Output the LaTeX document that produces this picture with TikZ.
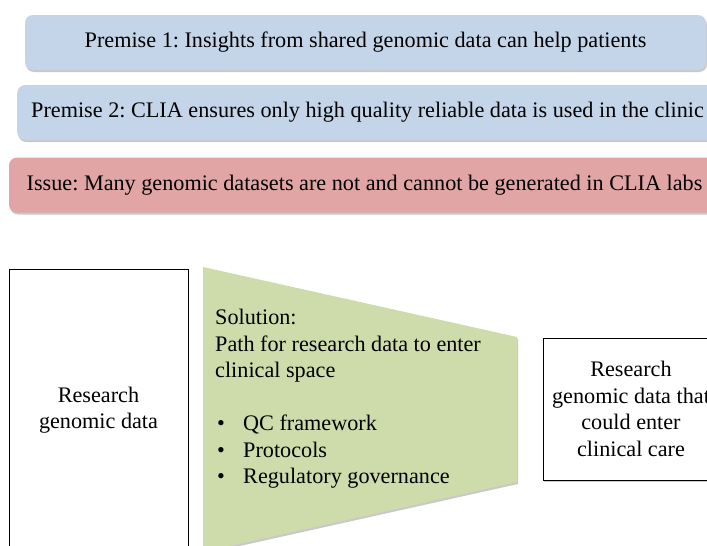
\documentclass[tikz,border=0pt]{standalone}
\usepackage{fontspec}
\setmainfont{Liberation Serif}
\usepackage{tikz}
\usetikzlibrary{shadows}

\definecolor{premiseblue}{RGB}{196,213,233}
\definecolor{issuered}{RGB}{224,165,164}
\definecolor{solutiongreen}{RGB}{206,220,171}

\tikzset{
  softshadow/.style={drop shadow={shadow xshift=1pt, shadow yshift=-2pt, opacity=0.35, fill=black!60}},
  banner/.style={rounded corners=8pt, minimum height=55pt, softshadow, inner xsep=0pt},
  databox/.style={draw=black, line width=0.6pt, fill=white, align=center, inner sep=0pt}
}

\begin{document}
\frenchspacing
\begin{tikzpicture}[x=1pt, y=-1pt, font=\fontsize{22.2}{26.5}\selectfont]
			%%%%% START %%%%%
			\clip (0, 0) rectangle (707, 546);
			\fill[white] (0, 0) rectangle (707, 546);
			
			% top banners
			\node[banner, fill=premiseblue, minimum width=681pt] (premiseA) at (365.5, 42.5) {Premise 1: Insights from shared genomic data can help patients};
			\node[banner, fill=premiseblue, anchor=west, inner xsep=14pt] (premiseB) at (17, 112.5) {\makebox[772pt][l]{Premise 2: CLIA ensures only high quality reliable data is used in the clinic}};
			\node[banner, fill=issuered, minimum width=711pt] (issue) at (364.5, 185) {Issue: Many genomic datasets are not and cannot be generated in CLIA labs};
			
			% left box
			\node[databox, minimum width=179pt, minimum height=282pt] (rawdata) at (98.5, 410) {Research\\genomic data};
			
			% solution funnel
			\fill[solutiongreen, softshadow] (203, 267) -- (517, 337) -- (517, 482) -- (203, 552) -- cycle;
			\node[anchor=north west, align=left, inner sep=0pt] (solution) at (215, 309) {Solution:\\Path for research data to enter\\clinical space\\[26.5pt]
				\makebox[28pt][l]{\hspace{2pt}\textbullet}QC framework\\
				\makebox[28pt][l]{\hspace{2pt}\textbullet}Protocols\\
				\makebox[28pt][l]{\hspace{2pt}\textbullet}Regulatory governance};
			
			% right box
			\node[databox, softshadow, minimum width=176pt, minimum height=142pt] (clinicaldata) at (631, 409) {Research\\genomic data that\\could enter\\clinical care};
			
			%%%%% END %%%%%
		\end{tikzpicture}
\end{document}
